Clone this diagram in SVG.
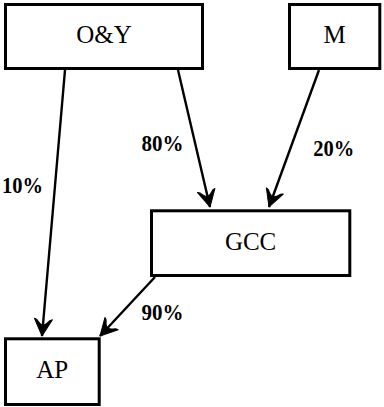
<svg xmlns="http://www.w3.org/2000/svg" width="384" height="407" viewBox="0 0 384 407">
<style>
.box{fill:#fff;stroke:#000;stroke-width:3}
.lbl{font-family:"Liberation Serif","Times New Roman",serif;font-size:25px;text-anchor:middle;fill:#000}
.pct{font-family:"Liberation Serif","Times New Roman",serif;font-size:23px;font-weight:bold;text-anchor:middle;fill:#000}
.edge{stroke:#000;stroke-width:2.4;fill:none;marker-end:url(#arr)}
</style>
<defs>
<marker id="arr" markerUnits="userSpaceOnUse" viewBox="-20 -11 22 22" refX="0" refY="0" markerWidth="22" markerHeight="22" orient="auto">
<path d="M0,0 L-17,-9 L-16,-6.5 Q-11,-2.5 -11,0 Q-11,2.5 -16,6.5 L-17,9 Z" fill="#000" stroke="#000" stroke-width="1" stroke-linejoin="round"/>
</marker>
</defs>
<g id="connectors">
<line class="edge" x1="65" y1="70" x2="42" y2="336"/>
<line class="edge" x1="178" y1="70" x2="210" y2="207"/>
<line class="edge" x1="319" y1="70" x2="269" y2="207"/>
<line class="edge" x1="155" y1="277" x2="100" y2="336"/>
</g>
<g id="node-OY"><rect class="box" x="5.5" y="4.5" width="197" height="64"/><text class="lbl" x="104" y="43.3">O&amp;Y</text></g>
<g id="node-M"><rect class="box" x="289.5" y="4.5" width="90.3" height="64"/><text class="lbl" x="334.6" y="43.3">M</text></g>
<g id="node-GCC"><rect class="box" x="151.5" y="210.8" width="198.3" height="64.7"/><text class="lbl" x="250.6" y="250">GCC</text></g>
<g id="node-AP"><rect class="box" x="5.5" y="338.8" width="93.7" height="65.7"/><text class="lbl" x="52.3" y="378">AP</text></g>
<g id="labels">
<text class="pct" x="162.5" y="151" textLength="42" lengthAdjust="spacingAndGlyphs">80%</text>
<text class="pct" x="333.7" y="156" textLength="41" lengthAdjust="spacingAndGlyphs">20%</text>
<text class="pct" x="22.5" y="193" textLength="41" lengthAdjust="spacingAndGlyphs">10%</text>
<text class="pct" x="162.5" y="320" textLength="42" lengthAdjust="spacingAndGlyphs">90%</text>
</g>
</svg>
